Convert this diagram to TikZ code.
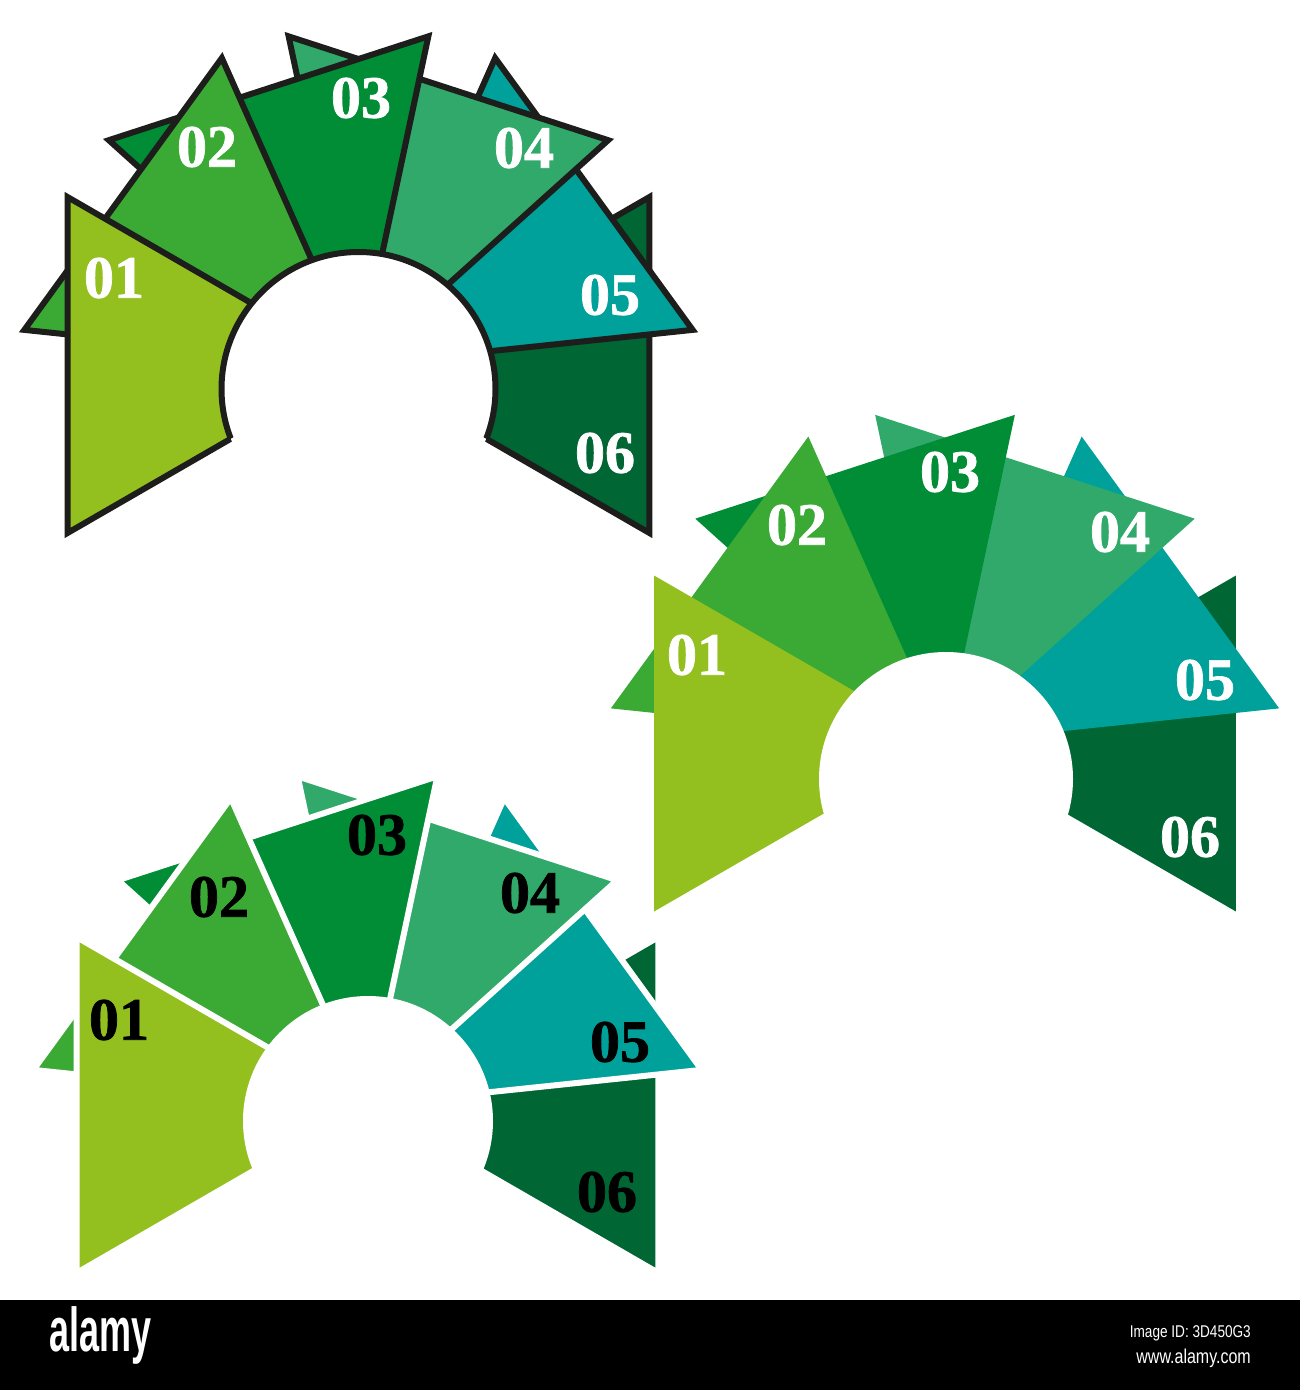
\documentclass[tikz,border=0pt]{standalone}
\usepackage{fontspec}
\setmainfont{Liberation Serif}
\newfontfamily\numfont[FakeBold=1.2]{Liberation Serif}
\newfontfamily\logofont[FakeStretch=0.58]{Liberation Sans}
\newfontfamily\idfont[FakeStretch=0.8]{Liberation Sans}
\definecolor{cA}{HTML}{93C01F}
\definecolor{cB}{HTML}{3AAA35}
\definecolor{cC}{HTML}{008D36}
\definecolor{cD}{HTML}{30A96A}
\definecolor{cE}{HTML}{00A19A}
\definecolor{cF}{HTML}{006633}
\definecolor{lineblack}{HTML}{1D1D1B}
\tikzset{
  numlabel/.style={font=\numfont\bfseries\fontsize{60}{60}\selectfont, inner sep=0pt},
  darkline/.style={draw=lineblack, line width=6pt, line join=miter},
  whiteline/.style={draw=white, line width=6pt, line join=miter},
  noline/.style={draw=none},
}
% #1 x, #2 y of the common apex, #3 outline style
\newcommand{\fanpieces}[3]{%
  \foreach \k/\col in {5/cF,4/cE,3/cD,2/cC,1/cB,0/cA}{%
    \pgfmathsetmacro\angA{36*\k-210}%
    \pgfmathsetmacro\angB{36*\k-150}%
    \path[#3, fill=\col, shift={(#1,#2)}] (0,0) -- (\angA:336) -- (\angB:336) -- cycle;
  }%
}
\begin{document}
\begin{tikzpicture}[x=1pt,y=-1pt]
\useasboundingbox (0,0) rectangle (1300,1390);
\fill[white] (0,0) rectangle (1300,1390);

% ---------- diagram 1 (black outlines) ----------
\fanpieces{358.5}{365}{darkline}
\fill[white] (358.5,389) circle (137);
\begin{scope}
  \clip[shift={(358.5,365)}] (0,0) -- (30:900) -- (-30:900) -- (-90:900) -- (-150:900) -- (150:900) -- cycle;
  \draw[lineblack, line width=6pt] (358.5,389) circle (137);
\end{scope}
\node[numlabel, white] (a1) at (114,278) {01};
\node[numlabel, white] (a2) at (207,147) {02};
\node[numlabel, white] (a3) at (361,98) {03};
\node[numlabel, white] (a4) at (524,148) {04};
\node[numlabel, white] (a5) at (610,295) {05};
\node[numlabel, white] (a6) at (605,453) {06};

% ---------- diagram 2 (no outlines) ----------
\fanpieces{945}{743.5}{noline}
\fill[white] (946,779) circle (127);
\node[numlabel, white] (b1) at (697,655) {01};
\node[numlabel, white] (b2) at (797,525) {02};
\node[numlabel, white] (b3) at (950,472) {03};
\node[numlabel, white] (b4) at (1120,532) {04};
\node[numlabel, white] (b5) at (1205,680) {05};
\node[numlabel, white] (b6) at (1190,837) {06};

% ---------- diagram 3 (white gaps, black numbers) ----------
\fanpieces{367.5}{1105}{whiteline}
\fill[white] (368,1121) circle (125);
\node[numlabel, black] (c1) at (119,1020) {01};
\node[numlabel, black] (c2) at (219,897) {02};
\node[numlabel, black] (c3) at (377,835) {03};
\node[numlabel, black] (c4) at (530,893) {04};
\node[numlabel, black] (c5) at (620,1042) {05};
\node[numlabel, black] (c6) at (607,1192) {06};

% ---------- bottom bar ----------
\fill[black] (0,1300) rectangle (1300,1390);
\node[font=\logofont\bfseries\fontsize{62}{62}\selectfont, white, anchor=west, inner sep=0pt] (logo) at (49,1335) {alamy};
\node[font=\idfont\fontsize{17}{17}\selectfont, white, anchor=east, inner sep=0pt] (imgid) at (1251,1333) {Image ID: 3D450G3};
\node[font=\idfont\fontsize{20}{20}\selectfont, white, anchor=east, inner sep=0pt] (www) at (1251,1358) {www.alamy.com};
\end{tikzpicture}
\end{document}
